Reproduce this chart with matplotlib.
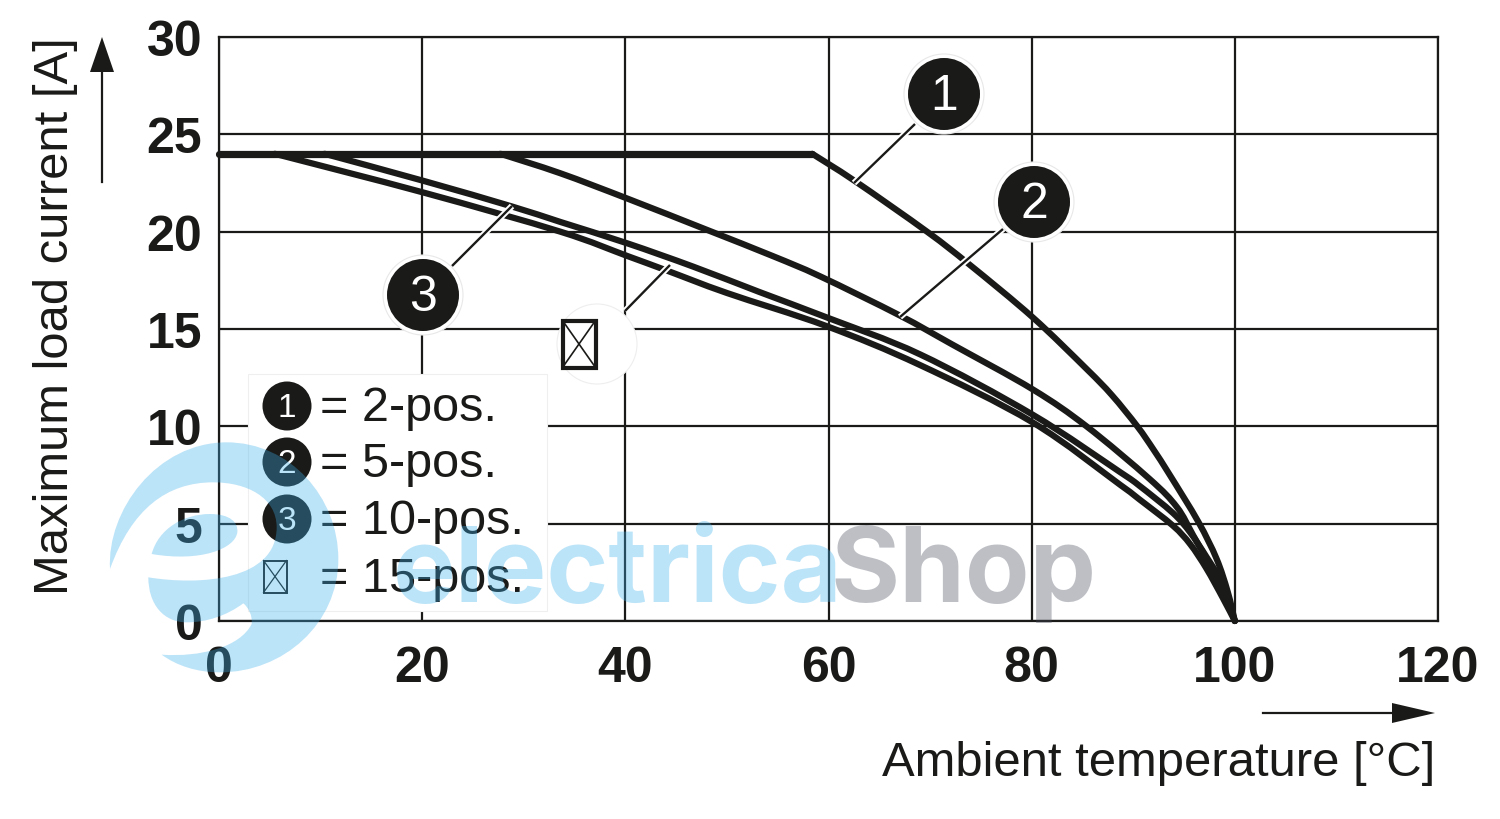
import matplotlib
matplotlib.use('Agg')
import matplotlib.pyplot as plt
from matplotlib.patches import Circle, Rectangle, PathPatch, Polygon
from matplotlib.path import Path
import matplotlib.patheffects as pe

plt.rcParams['font.family'] = ['Liberation Sans', 'DejaVu Sans']

INK = '#1a1a18'
W, H = 1500, 820

# curves
temp_2pos = [0, 58.4, 62.6, 69.7, 73.9, 80.1, 85.4, 87.9, 90.4, 92.0, 93.6, 96.4, 98.2, 99.3, 100]
load_2pos = [24, 24, 22.6, 20.0, 18.3, 15.6, 12.95, 11.6, 10.0, 8.8, 7.5, 5.1, 3.2, 1.5, 0]
temp_5pos = [27.7, 33.6, 40.2, 48.0, 54.5, 59.2, 67.0, 72.2, 80.1, 85.4, 91.6, 94.3, 95.9, 97.7, 99.0, 100]
load_5pos = [24, 23.0, 21.7, 20.1, 18.75, 17.7, 15.7, 14.2, 11.9, 10.0, 7.3, 5.85, 4.4, 2.7, 1.3, 0]
temp_10pos = [10.4, 20.2, 28.8, 33.6, 40.2, 46.7, 53.2, 59.8, 69.0, 80.1, 88.7, 90.6, 93.9, 95.6, 97.2, 98.8, 100]
load_10pos = [24, 22.6, 21.3, 20.5, 19.4, 18.2, 16.9, 15.6, 13.7, 10.6, 7.65, 6.95, 5.55, 4.55, 3.3, 1.9, 0]
temp_15pos = [5.5, 20.2, 33.6, 40.2, 44.1, 50.0, 59.8, 69.0, 80.1, 88.7, 90.6, 93.9, 95.6, 97.2, 98.8, 100]
load_15pos = [24, 22.0, 20.0, 18.75, 18.0, 16.85, 15.15, 13.15, 10.2, 7.0, 6.25, 4.9, 3.95, 2.7, 1.2, 0]

x_ticks = [0, 20, 40, 60, 80, 100, 120]
y_ticks = [0, 5, 10, 15, 20, 25, 30]
legend_labels = ['= 2-pos.', '= 5-pos.', '= 10-pos.', '= 15-pos.']

fig = plt.figure(figsize=(15, 8.2), dpi=100, facecolor='white')
ax = fig.add_axes([219 / W, 1 - 622 / H, (1438 - 219) / W, (622 - 38) / H])
ax.set_xlim(0, 120)
ax.set_ylim(0, 30)
ax.set_xticks(x_ticks)
ax.set_yticks(y_ticks)
ax.grid(True, color=INK, lw=1.6)
ax.set_axisbelow(True)
ax.tick_params(axis='both', length=0, labelsize=36, labelcolor=INK)
ax.tick_params(axis='x', pad=17)
ax.tick_params(axis='y', pad=12)
for lab in ax.get_xticklabels() + ax.get_yticklabels():
    lab.set_fontweight('bold')
for sp in ax.spines.values():
    sp.set_linewidth(1.6)
    sp.set_color(INK)


def smooth_curve(xs, ys, lw=4.5):
    # bezier through the read points, so the curve has no corners at them
    verts = [(xs[0], ys[0])]
    codes = [Path.MOVETO]
    for i in range(len(xs) - 1):
        x0, y0 = (xs[i - 1], ys[i - 1]) if i > 0 else (xs[i], ys[i])
        x3, y3 = (xs[i + 2], ys[i + 2]) if i + 2 < len(xs) else (xs[i + 1], ys[i + 1])
        verts.append((xs[i] + (xs[i + 1] - x0) / 6, ys[i] + (ys[i + 1] - y0) / 6))
        verts.append((xs[i + 1] - (x3 - xs[i]) / 6, ys[i + 1] - (y3 - ys[i]) / 6))
        verts.append((xs[i + 1], ys[i + 1]))
        codes += [Path.CURVE4] * 3
    ax.add_patch(PathPatch(Path(verts, codes), fc='none', ec=INK, lw=lw,
                           capstyle='round', clip_on=False))


smooth_curve(temp_15pos, load_15pos)
smooth_curve(temp_10pos, load_10pos)
smooth_curve(temp_5pos, load_5pos)
smooth_curve(temp_2pos[1:], load_2pos[1:])
# the flat part is drawn heavier
ax.plot(temp_2pos[:2], load_2pos[:2], color=INK, lw=5.2, solid_capstyle='round', clip_on=False)

# overlay in pixel coordinates for callouts, legend and watermark
ov = fig.add_axes([0, 0, 1, 1])
ov.set_xlim(0, W)
ov.set_ylim(H, 0)
ov.axis('off')
ov.patch.set_alpha(0)


def badge(x, y, txt, r=36, size=36, halo=True):
    if halo:
        ov.add_patch(Circle((x, y), r + 4, fc='white', ec='#e8e8e8', lw=0.8, zorder=4))
    ov.add_patch(Circle((x, y), r, fc=INK, ec='none', zorder=5))
    ov.text(x, y + 2, txt, color='white', fontsize=size, ha='center', va='center', zorder=6)


def leader(x0, y0, x1, y1):
    ov.plot([x0, x1], [y0, y1], color=INK, lw=1.7, zorder=3, solid_capstyle='butt',
            path_effects=[pe.Stroke(linewidth=4.5, foreground='white'), pe.Normal()])


leader(915, 125, 854, 184)
leader(1003, 230, 900, 318)
leader(452, 267, 512, 207)
leader(625, 312, 670, 266)
badge(944, 95, '1')
badge(1034, 203, '2')
badge(423, 296, '3')

# crossed box callout
ov.add_patch(Circle((597, 345), 40, fc='white', ec='#eeeeee', lw=0.8, zorder=4))
ov.add_patch(Rectangle((562.5, 321.5), 33, 47, fc='none', ec=INK, lw=3, zorder=5))
ov.plot([562.5, 595.5], [321.5, 368.5], color=INK, lw=1.2, zorder=5)
ov.plot([562.5, 595.5], [368.5, 321.5], color=INK, lw=1.2, zorder=5)

# legend box
ov.add_patch(Rectangle((248, 375), 299, 237, fc='white', ec='#efefef', lw=0.8, zorder=4))
badge(287, 407, '1', r=24.5, size=24, halo=False)
badge(287, 463, '2', r=24.5, size=24, halo=False)
badge(287, 520, '3', r=24.5, size=24, halo=False)
ov.add_patch(Rectangle((263.5, 561.5), 23, 32, fc='none', ec=INK, lw=1.4, zorder=5))
ov.plot([263.5, 286.5], [561.5, 593.5], color=INK, lw=0.9, zorder=5)
ov.plot([263.5, 286.5], [593.5, 561.5], color=INK, lw=0.9, zorder=5)
for lab, y in zip(legend_labels, [409, 465, 522, 580]):
    ov.text(320, y, lab, fontsize=35, color=INK, va='center', ha='left', zorder=6)

# axis titles and arrows
ov.text(56, 316, 'Maximum load current [A]', rotation=90, fontsize=35.3, color=INK,
        ha='center', va='center')
ov.text(1435, 764, 'Ambient temperature [°C]', fontsize=35.3, color=INK, ha='right', va='center')
ov.plot([102, 102], [183, 70], color=INK, lw=1.6)
ov.add_patch(Polygon([(102, 38), (90, 73), (114, 73)], fc=INK, ec='none'))
ov.plot([1263, 1395], [714, 714], color=INK, lw=1.6)
ov.add_patch(Polygon([(1435, 714), (1392, 704), (1392, 724)], fc=INK, ec='none'))

# watermark swirl
BLUE = '#3bb0eb'
def z(p):
    return (100 + p[0] / 3, 435 + p[1] / 3)

swirl = [(30, 405), (20, 230), (170, 25), (380, 25),
         (570, 25), (715, 190), (715, 375),
         (715, 570), (550, 715), (360, 715),
         (290, 715), (230, 695), (185, 662),
         (300, 670), (420, 640), (455, 570),
         (458, 545), (445, 520), (430, 508),
         (380, 545), (320, 565), (260, 565),
         (190, 565), (145, 510), (145, 430),
         (300, 455), (530, 440), (530, 280),
         (530, 190), (440, 145), (340, 145),
         (200, 145), (95, 225), (30, 405)]
lobe = [(155, 360), (175, 285), (250, 240), (330, 240),
        (390, 240), (415, 265), (412, 295),
        (405, 345), (300, 385), (155, 360)]
verts = [z(p) for p in swirl] + [z(p) for p in lobe]
codes = [Path.MOVETO] + [Path.CURVE4] * (len(swirl) - 1) + [Path.MOVETO] + [Path.CURVE4] * (len(lobe) - 1)
ov.add_patch(PathPatch(Path(verts, codes), fc=BLUE, ec='none', alpha=0.34, zorder=10))

ov.text(393, 602, 'electrica', fontsize=76, fontweight='bold', family='Inter', color=BLUE,
        alpha=0.34, ha='left', va='baseline', zorder=10)
ov.text(830, 602, 'Shop', fontsize=76, fontweight='bold', family='Inter', color='#454a5a',
        alpha=0.35, ha='left', va='baseline', zorder=10)

fig.savefig('out.png', dpi=100)
